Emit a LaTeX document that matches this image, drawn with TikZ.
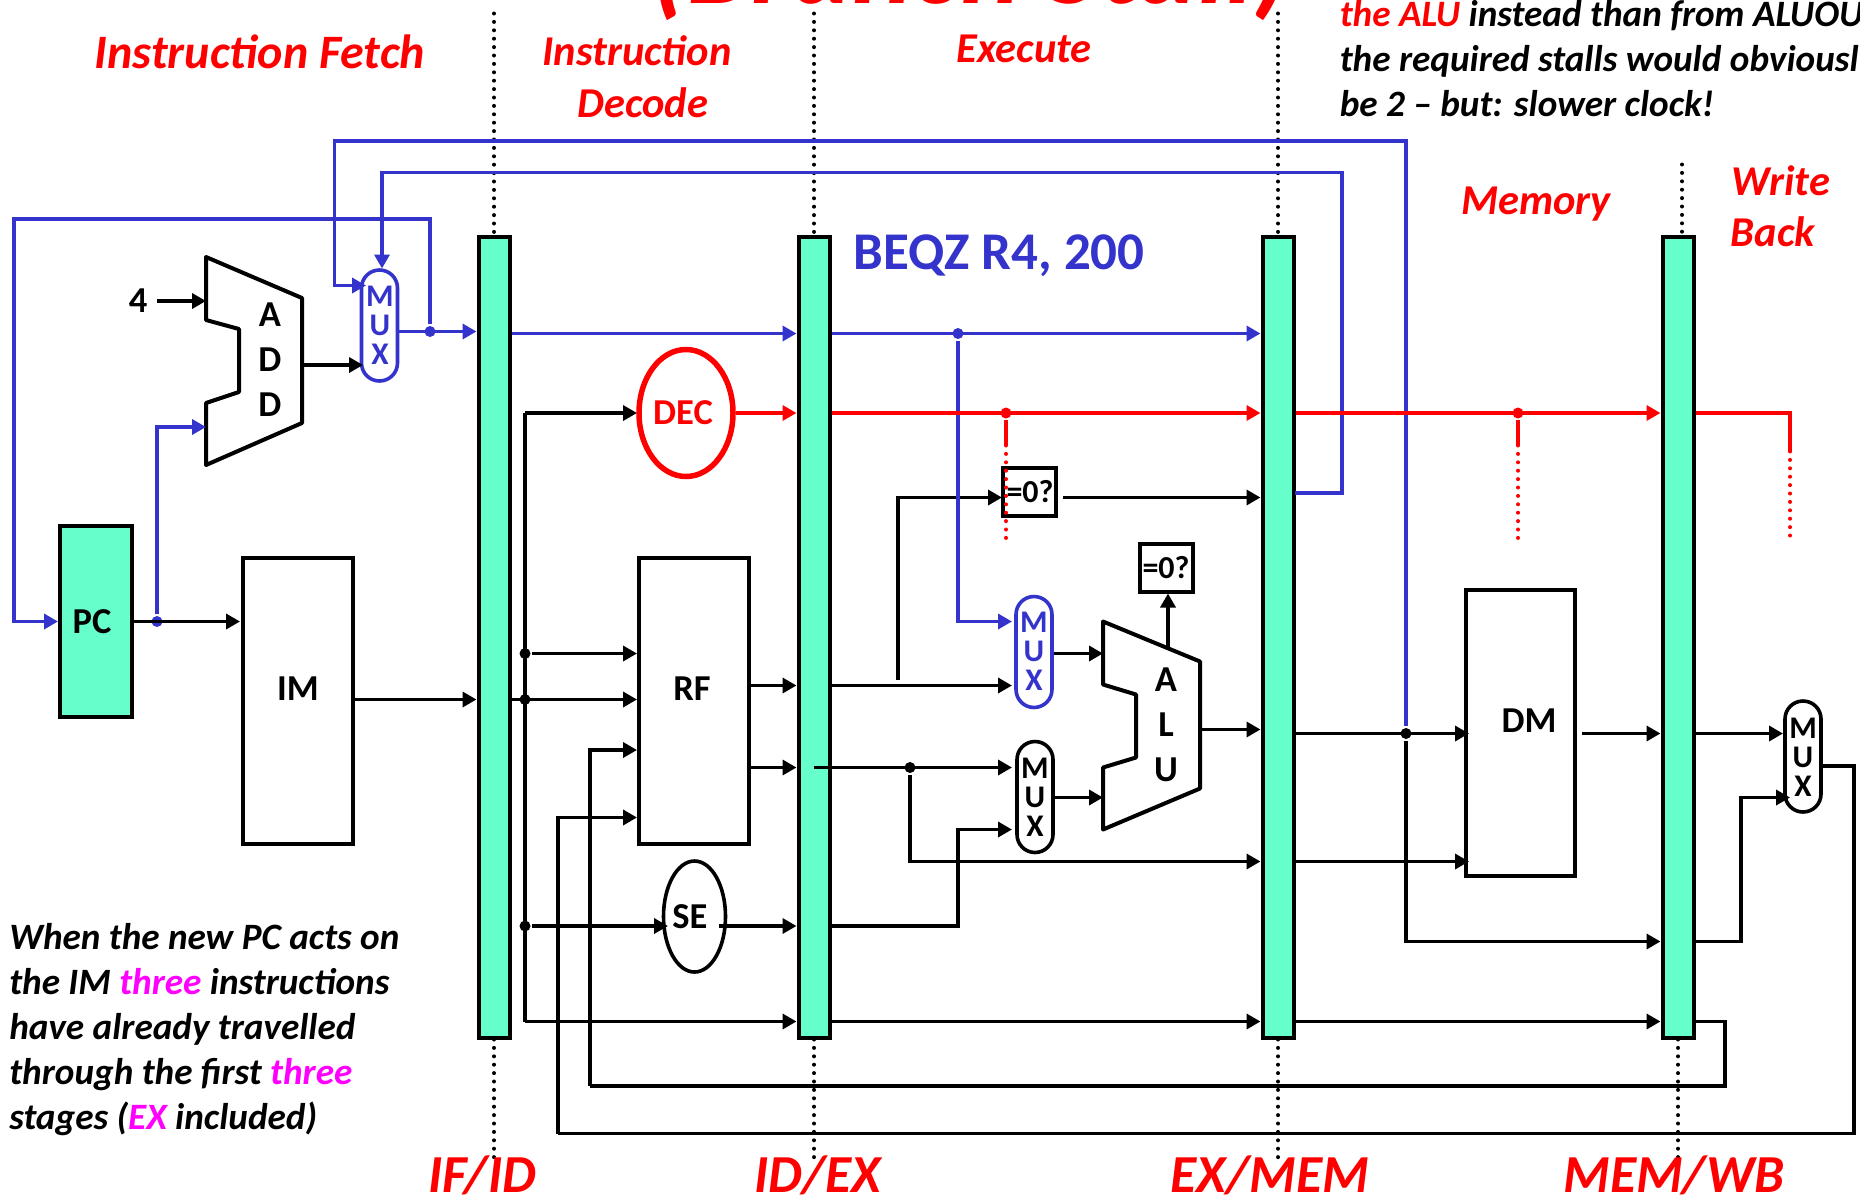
\documentclass[tikz,border=0pt]{standalone}
\usepackage{fontspec}
\setmainfont{Carlito}
\usepackage{xcolor}
\definecolor{colorWire}{HTML}{3434CC}
\definecolor{colorStage}{HTML}{FF0000}
\definecolor{colorLatch}{HTML}{66FFCC}
\definecolor{colorNote}{HTML}{FF00FF}
\usepackage{tikz}
\usetikzlibrary{arrows.meta, shapes.geometric}
\tikzset{
  latch/.style={draw, fill=colorLatch, line width=4pt, minimum width=31pt, minimum height=801pt, inner sep=0pt},
  block/.style={draw, line width=4pt, inner sep=0pt},
  muxbox/.style={draw, line width=3.6pt, fill=white, rounded corners=18pt, minimum width=36pt, minimum height=111pt, inner sep=0pt},
  zerobox/.style={draw, line width=4pt, minimum width=53pt, minimum height=48pt, inner sep=0pt},
  lbl/.style={font=\fontsize{36.5}{45}\selectfont\bfseries, align=center, inner sep=0pt},
  muxtxt/.style={font=\fontsize{31.5}{29}\selectfont\bfseries, align=center, inner sep=0pt},
  stage/.style={text=colorStage, font=\fontsize{42.5}{50}\selectfont\bfseries\itshape, inner sep=0pt},
  latchname/.style={text=colorStage, font=\fontsize{53.5}{50}\selectfont\bfseries\itshape, inner sep=0pt, anchor=base},
  remark/.style={font=\fontsize{37.2}{45}\selectfont\bfseries\itshape, align=left, inner sep=0pt},
  junction/.style={circle, fill, minimum size=11pt, inner sep=0pt},
  ticks/.style={line width=4pt, line cap=round, dash pattern=on 0pt off 8.4pt},
}

\begin{document}
\begin{tikzpicture}[>={Triangle[length=14pt,width=15pt]}, x=1pt, y=-1pt, line width=3.6pt]
\path[use as bounding box, fill=white] (0,-1.5) rectangle (1860,1198.5);

\node[latch] (ifid) at (494,635.5) {};
\node[latch] (idex) at (814,635.5) {};
\node[latch] (exmem) at (1278,635.5) {};
\node[latch] (memwb) at (1678,635.5) {};
\coordinate (ifidtop) at (494,12);
\coordinate (idextop) at (814,12);
\coordinate (exmemtop) at (1278,12);
\coordinate (memwbtop) at (1682,163);
\coordinate (ifidend) at (494,1162);
\coordinate (idexend) at (814,1162);
\coordinate (exmemend) at (1278,1162);
\coordinate (memwbend) at (1678,1162);
\draw[ticks] (ifidtop) -- (ifid.north);
\draw[ticks] (idextop) -- (idex.north);
\draw[ticks] (exmemtop) -- (exmem.north);
\draw[ticks] (memwbtop) -- (memwb.north -| memwbtop);
\draw[ticks] (ifid.south) -- (ifidend);
\draw[ticks] (idex.south) -- (idexend);
\draw[ticks] (exmem.south) -- (exmemend);
\draw[ticks] (memwb.south) -- (memwbend);

\node[block, fill=colorLatch, minimum width=72pt, minimum height=191pt] (pc) at (96,620) {};
\node[lbl] (pclabel) at (92,620) {PC};
\node[block, minimum width=110pt, minimum height=286pt] (im) at (298,699) {};
\node[lbl] (imlabel) at (298,687) {IM};
\node[block, minimum width=110pt, minimum height=286pt] (rf) at (694,699) {};
\node[lbl] (rflabel) at (692,687) {RF};
\node[block, minimum width=109pt, minimum height=286pt] (dm) at (1520.5,731) {};
\node[lbl] (dmlabel) at (1529,719) {DM};
\node[ellipse, draw, colorStage, line width=5.5pt, minimum width=94pt, minimum height=127pt, inner sep=0pt] (dec) at (686,411.5) {};
\node[lbl, text=colorStage] (declabel) at (683,411.5) {DEC};
\node[ellipse, draw, line width=3.6pt, minimum width=62pt, minimum height=111pt, inner sep=0pt] (se) at (694.5,915) {};
\node[lbl] (selabel) at (690,915) {SE};

\draw[block, line join=round] (206,255.5) -- (302,296.5) -- (302,421.5) -- (206,463.5) -- (206,401.5) -- (239,390.5) -- (239,327.5) -- (206,318.5) -- cycle;
\node[lbl] (add) at (270,358.5) {A\\D\\D};
\draw[block, line join=round] (1103,620) -- (1200,660) -- (1200,787) -- (1103,828) -- (1103,766) -- (1136,756) -- (1136,693) -- (1103,683) -- cycle;
\node[lbl] (alu) at (1166,723) {A\\L\\U};

\node[muxbox, draw=colorWire] (muxa) at (379.5,324) {};
\node[muxtxt, text=colorWire] (muxatext) at (380,324) {M\\U\\X};
\node[muxbox, draw=colorWire] (muxb) at (1034,650.5) {};
\node[muxtxt, text=colorWire] (muxbtext) at (1034,650) {M\\U\\X};
\node[muxbox] (muxc) at (1035,795.5) {};
\node[muxtxt] (muxctext) at (1035,796) {M\\U\\X};
\node[muxbox] (muxd) at (1803,755) {};
\node[muxtxt] (muxdtext) at (1803,756) {M\\U\\X};

\node[zerobox] (zeroa) at (1029.5,490.5) {};
\node[lbl, font=\fontsize{32}{40}\selectfont\bfseries] (zeroatext) at (1030,490) {=0?};
\node[zerobox] (zerob) at (1166,566) {};
\node[lbl, font=\fontsize{32}{40}\selectfont\bfseries] (zerobtext) at (1166,566) {=0?};

\node[junction, colorWire] (dotpc) at (157,620) {};
\node[junction, colorWire] (dotmux) at (430,330) {};
\node[junction, colorWire] (dotbeq) at (958,332) {};
\node[junction] (dotdeca) at (525,652) {};
\node[junction] (dotdecb) at (525,698) {};
\node[junction] (dotdecc) at (525,924.5) {};
\node[junction] (dotrs) at (910,766) {};
\node[junction] (dotalu) at (1406,732) {};
\node[junction, colorStage] (dotreda) at (1006,411.5) {};
\node[junction, colorStage] (dotredb) at (1518,411.5) {};

\coordinate (pcback) at (14,217.5);
\coordinate (addina) at (206,299.5);
\coordinate (addinb) at (206,425.5);
\coordinate (addout) at (302,363.5);
\coordinate (muxaina) at (366,284);
\coordinate (muxainb) at (382,267);
\coordinate (muxainc) at (363,363.5);
\coordinate (fwdturn) at (334.5,139.5);
\coordinate (brturn) at (1342,171);
\coordinate (zeroback) at (1295,491.5);
\coordinate (decturn) at (525,411.5);
\coordinate (decin) at (637,411.5);
\coordinate (imin) at (240,620);
\coordinate (rfinc) at (637,748.5);
\coordinate (rfind) at (637,816);
\coordinate (rfine) at (637,652);
\coordinate (seturn) at (958,924.5);
\coordinate (seout) at (719,924.5);
\coordinate (sein) at (668,924.5);
\coordinate (muxbina) at (1012,620);
\coordinate (muxbinb) at (1012,684);
\coordinate (muxcina) at (1012,766);
\coordinate (muxcinb) at (1012,828);
\coordinate (aluina) at (1103,652);
\coordinate (aluinb) at (1103,796);
\coordinate (aluout) at (1200,728);
\coordinate (zerotap) at (1168,647);
\coordinate (zeroaturn) at (898,678);
\coordinate (zeroain) at (1002,496);
\coordinate (zeroaout) at (1063,496);
\coordinate (dmina) at (1469,732);
\coordinate (dminb) at (1469,860);
\coordinate (dmout) at (1582,732);
\coordinate (regturn) at (525,1020);
\coordinate (wbturna) at (1725,1084.5);
\coordinate (wbturnb) at (590,1084.5);
\coordinate (wbturnc) at (1854,1132);
\coordinate (wbturnd) at (558,1132);
\coordinate (muxdina) at (1783,732);
\coordinate (muxdinb) at (1790,796);
\coordinate (muxdout) at (1823,764.5);
\coordinate (muxdturn) at (1741,940);
\coordinate (redturn) at (1790,411.5);
\coordinate (redsolida) at (1006,444);
\coordinate (redsolidb) at (1518,444);
\coordinate (redsolidc) at (1790,450);
\coordinate (redenda) at (1006,540);
\coordinate (redendb) at (1518,540);
\coordinate (redendc) at (1790,541);

\node[lbl] (four) at (138,299.5) {4};
\draw [->] (four.east) ++(8,0) -- (addina);
\draw [->] (pc.east) -- (imin);
\draw [->] (addout) -- (muxainc);
\draw [->] (im.east |- dotdecb) -- (dotdecb -| ifid.west);
\draw [->] (ifid.east |- dotdecb) -- (rf.west |- dotdecb);
\draw (decturn) -- (regturn);
\draw [->] (decturn) -- (decin);
\draw [->] (dotdeca) -- (rfine);
\draw [->] (dotdecc) -- (sein);
\draw [->] (regturn) -- (regturn -| idex.west);
\draw [->] (idex.east |- regturn) -- (regturn -| exmem.west);
\draw [->] (exmem.east |- regturn) -- (regturn -| memwb.west);
\draw [->] (seout) -- (seout -| idex.west);
\draw [->] (idex.east |- seout) -- (seturn) |- (muxcinb);
\draw [->] (rf.east |- muxbinb) -- (muxbinb -| idex.west);
\draw [->] (rf.east |- muxcina) -- (muxcina -| idex.west);
\draw [->] (idex.east |- muxbinb) -- (muxbinb);
\draw [->] (idex.center |- muxcina) -- (muxcina);
\draw [->] (dotrs) |- (dminb -| exmem.west);
\draw [->] (exmem.east |- dminb) -- (dminb);
\draw [->] (muxb.east |- aluina) -- (aluina);
\draw [->] (muxc.east |- aluinb) -- (aluinb);
\draw [->] (aluout) -- (aluout -| exmem.west);
\draw [->] (zerotap) -- (zerotap |- zerob.south);
\draw [->] (zeroaturn) |- (zeroain);
\draw [->] (zeroaout) -- (zeroaout -| exmem.west);
\draw [->] (exmem.east |- dmina) -- (dmina);
\draw [->] (dotalu) |- (muxdturn -| memwb.west);
\draw [->] (dmout) -- (dmout -| memwb.west);
\draw [->] (memwb.east |- dmout) -- (muxdina);
\draw [->] (memwb.east |- muxdturn) -- (muxdturn) |- (muxdinb);
\draw [->] (wbturnb) |- (rfinc);
\draw [->] (wbturnd) |- (rfind);
\draw (memwb.east |- regturn) -| (wbturna) -- (wbturnb);
\draw (muxdout) -| (wbturnc) -- (wbturnd);

\draw [->, colorWire] (dotpc) |- (addinb);
\draw [->, colorWire] (dotmux) |- (pcback) |- (pc.west);
\draw [->, colorWire] (muxa.east |- dotmux) -- (dotmux -| ifid.west);
\draw [->, colorWire] (ifid.east |- dotbeq) -- (dotbeq -| idex.west);
\draw [->, colorWire] (idex.east |- dotbeq) -- (dotbeq -| exmem.west);
\draw [->, colorWire] (dotbeq) |- (muxbina);
\draw [->, colorWire] (dotalu) |- (fwdturn) |- (muxaina);
\draw [->, colorWire] (zeroback) -| (brturn) -| (muxainb);

\draw [->, colorStage] (dec.east) -- (dec.east -| idex.west);
\draw [->, colorStage] (idex.east |- dec.east) -- (dec.east -| exmem.west);
\draw [->, colorStage] (exmem.east |- dec.east) -- (dec.east -| memwb.west);
\draw [colorStage] (memwb.east |- dec.east) -- (redturn) -- (redsolidc);
\draw [colorStage] (dotreda) -- (redsolida);
\draw [colorStage] (dotredb) -- (redsolidb);
\draw [ticks, colorStage] (redsolida) -- (redenda);
\draw [ticks, colorStage] (redsolidb) -- (redendb);
\draw [ticks, colorStage] (redsolidc) -- (redendc);

\node[stage, font=\fontsize{48}{50}\selectfont\bfseries\itshape] (fetchtitle) at (260,50) {Instruction Fetch};
\node[stage] (decodea) at (637,49) {Instruction};
\node[stage] (decodeb) at (643,101) {Decode};
\node[stage] (executetitle) at (1024,47) {Execute};
\node[stage] (memorytitle) at (1536,203) {Memory};
\node[stage] (writetitle) at (1781,179) {Write};
\node[stage] (backtitle) at (1773,230) {Back};
\node[latchname] (ifidname) at (482,1191) {IF/ID};
\node[latchname] (idexname) at (818,1191) {ID/EX};
\node[latchname] (exmemname) at (1270,1191) {EX/MEM};
\node[latchname] (memwbname) at (1674,1191) {MEM/WB};
\node[text=colorWire, font=\fontsize{53}{50}\selectfont\bfseries, inner sep=0pt] (beqz) at (999,254) {BEQZ R4, 200};
\node[text=colorStage, font=\fontsize{114.5}{80}\selectfont\bfseries\itshape, anchor=base, inner sep=0pt] (slidetitle) at (971,1.5) {(Branch Stall)};
\node[remark, anchor=north west] (pcnote) at (7.5,920) {When the new PC acts on\\the IM \textcolor{colorNote}{three} instructions\\have already travelled\\through the first \textcolor{colorNote}{three}\\stages (\textcolor{colorNote}{EX} included)};
\node[remark, anchor=north west] (alunote) at (1338,-3) {\textcolor{colorStage}{the ALU} instead than from ALUOUT\\the required stalls would obviously\\be 2 -- but: slower clock!};
\end{tikzpicture}
\end{document}
